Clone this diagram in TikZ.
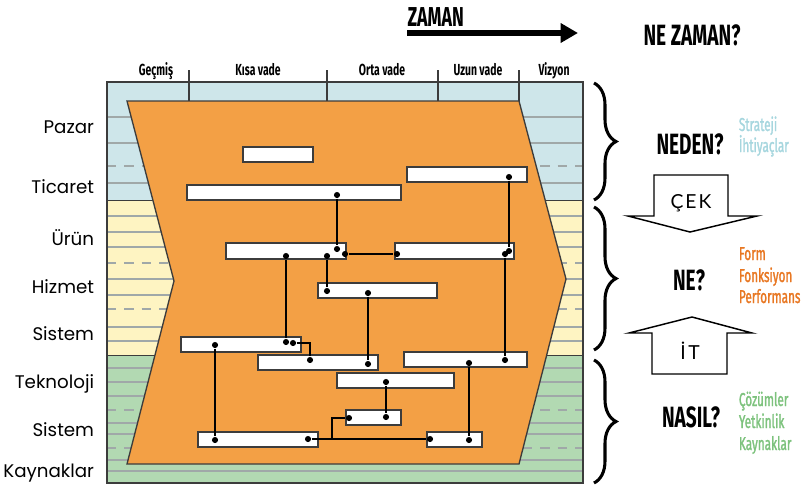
\documentclass[tikz,border=0pt]{standalone}
\usepackage{fontspec}
\setmainfont{Poppins}
\newfontfamily\condfont{Fira Sans}[FakeStretch=0.65]
\newfontfamily\condmid{Fira Sans}[FakeStretch=0.63, FakeBold=1.4]
\newfontfamily\thinfont{Lato}
\usetikzlibrary{arrows.meta,decorations.pathreplacing}

\definecolor{bandblue}{RGB}{206,230,234}
\definecolor{bandyellow}{RGB}{254,244,194}
\definecolor{bandgreen}{RGB}{178,217,178}
\definecolor{bandgray}{RGB}{160,168,168}
\definecolor{shapeorange}{RGB}{243,160,69}
\definecolor{darkline}{RGB}{60,60,60}
\definecolor{txtblue}{RGB}{166,214,222}
\definecolor{txtorange}{RGB}{232,119,34}
\definecolor{txtgreen}{RGB}{125,194,125}

\tikzset{every picture/.style={line width=0.75pt}}
\tikzset{
  bar/.style={draw=darkline, fill=white, line width=1.2pt},
  dot/.style={circle, fill=black, inner sep=0pt, minimum size=4.6pt},
  link/.style={line width=1.2pt},
  bandline/.style={draw=bandgray, line width=0.8pt},
  banddash/.style={bandline, dash pattern=on 7pt off 6pt},
  phase/.style={font=\condfont\bfseries\fontsize{12}{14}\selectfont, anchor=base},
  layer/.style={font=\fontsize{13.7}{16}\selectfont, anchor=base east},
  question/.style={font=\condfont\bfseries\fontsize{22}{24}\selectfont, anchor=base},
  aspect/.style={font=\condmid\fontsize{14}{16}\selectfont, anchor=base west},
  bigbrace/.style={decorate, decoration={brace, amplitude=16.5pt}, line width=2.3pt},
  flowarrow/.style={draw=black, fill=white, line width=1.1pt},
}

\begin{document}
\begin{tikzpicture}[x=0.75pt, y=0.75pt, yscale=-1, xscale=1]
    \useasboundingbox (0,0) rectangle (803,487);

    % Bands
    \fill [bandblue]   (107, 82) rectangle (583,200);
    \fill [bandyellow] (107,200) rectangle (583,355);
    \fill [bandgreen]  (107,355) rectangle (583,483);

    % Band lines
    \foreach \y in {117,143,183, 216,232,247,279,295,327,341, 368,382,396,423,434,460,471}
      \draw [bandline] (107,\y) -- (583,\y);
    \foreach \y in {166,263,309,410,448}
      \draw [banddash] (107,\y) -- (583,\y);
    \draw [darkline] (107,200) -- (583,200);
    \draw [darkline] (107,355) -- (583,355);
    \draw [darkline, line width=1pt] (107, 82) rectangle (583,483);

    % Time ticks
    \foreach \x in {189,327,438,519}
      \draw [darkline, line width=1pt] (\x,70) -- (\x,101);

    % Labels: time phases
    \node [phase] (gecmis) at (156,75) {Geçmiş};
    \node [phase] (kisa)   at (258,75) {Kısa vade};
    \node [phase] (orta)   at (382,75) {Orta vade};
    \node [phase] (uzun)   at (478,75) {Uzun vade};
    \node [phase] (vizyon) at (554,75) {Vizyon};

    % Time arrow
    \node [anchor=base west, inner sep=0pt, font=\condfont\bfseries\fontsize{20.5}{22}\selectfont] (zaman) at (407,26) {ZAMAN};
    \coordinate (zs) at (407,33);
    \coordinate (ze) at (578,33);
    \draw [line width=3.8pt, -{Triangle[length=13pt,width=14pt]}] (zs) -- (ze);
    \node [question] (nezaman) at (692,45) {NE ZAMAN?};

    % Orange shape
    \draw [fill=shapeorange, draw=darkline, line width=1pt]
          (127,101) -- (519,101) -- (566,279) -- (519,464) -- (127,464) -- (174,281) -- cycle;

    % Bars
    \draw [bar] (243,147) rectangle (313,162);
    \draw [bar] (187,185) rectangle (401,200);
    \draw [bar] (407,167) rectangle (527,182);
    \draw [bar] (226,243) rectangle (346,259);
    \draw [bar] (395,243) rectangle (514,259);
    \draw [bar] (318,283) rectangle (437,298);
    \draw [bar] (181,337) rectangle (301,352);
    \draw [bar] (258,355) rectangle (378,370);
    \draw [bar] (404,352) rectangle (527,367);
    \draw [bar] (337,373) rectangle (454,388);
    \draw [bar] (346,410) rectangle (401,425);
    \draw [bar] (198,432) rectangle (318,447);
    \draw [bar] (427,432) rectangle (482,447);

    % Dots
    \node [dot] (b1) at (337,195) {};
    \node [dot] (c1) at (337,249) {};
    \node [dot] (c2) at (345,254) {};
    \node [dot] (c3) at (286,256) {};
    \node [dot] (c4) at (327,256) {};
    \node [dot] (d1) at (509,177) {};
    \node [dot] (e1) at (397,254) {};
    \node [dot] (e2) at (509,251) {};
    \node [dot] (e3) at (505,254) {};
    \node [dot] (f1) at (327,291) {};
    \node [dot] (f2) at (368,293) {};
    \node [dot] (g1) at (286,342) {};
    \node [dot] (g2) at (293,343) {};
    \node [dot] (g3) at (215,345) {};
    \node [dot] (h1) at (368,364) {};
    \node [dot] (h2) at (310,360) {};
    \node [dot] (l1) at (505,360) {};
    \node [dot] (l2) at (469,363) {};
    \node [dot] (i1) at (386,382) {};
    \node [dot] (j1) at (386,417) {};
    \node [dot] (j2) at (349,418) {};
    \node [dot] (k1) at (215,440) {};
    \node [dot] (k2) at (308,439) {};
    \node [dot] (m1) at (430,439) {};
    \node [dot] (m2) at (469,440) {};
    \coordinate (jk) at (332,439);

    % Links
    \draw [link] (b1) -- (c1);
    \draw [link] (c2) -- (e1);
    \draw [link] (d1) -- (e2);
    \draw [link] (e3) -- (l1);
    \draw [link] (c3) -- (g1);
    \draw [link] (c4) -- (f1);
    \draw [link] (f2) -- (h1);
    \draw [link] (g2) -| (h2);
    \draw [link] (g3) -- (k1);
    \draw [link] (i1) -- (j1);
    \draw [link] (j2) -| (jk);
    \draw [link] (k2) -- (m1);
    \draw [link] (l2) -- (m2);

    % Labels: layers
    \node [layer] (pazar)   at (99,133) {Pazar};
    \node [layer] (ticaret) at (99,193) {Ticaret};
    \node [layer] (urun)    at (99,245) {Ürün};
    \node [layer] (hizmet)  at (99,293) {Hizmet};
    \node [layer] (sistem1) at (99,340) {Sistem};
    \node [layer] (tekno)   at (99,388) {Teknoloji};
    \node [layer] (sistem2) at (99,436) {Sistem};
    \node [layer] (kaynak)  at (99,477) {Kaynaklar};

    % Braces
    \draw [bigbrace] (594, 83) -- (594,200);
    \draw [bigbrace] (594,207) -- (594,350);
    \draw [bigbrace] (594,360) -- (594,483);

    % Questions
    \node [question] (neden) at (690,154) {NEDEN?};
    \node [question] (ne)    at (689,290) {NE?};
    \node [question] (nasil) at (691,427) {NASIL?};

    % Aspects
    \node [aspect, text=txtblue] (strateji) at (734,131) {Strateji};
    \node [aspect, text=txtblue] (ihtiyac)  at (734,152) {İhtiyaçlar};
    \node [aspect, text=txtorange] (form)   at (734,260) {Form};
    \node [aspect, text=txtorange] (fonk)   at (734,282) {Fonksiyon};
    \node [aspect, text=txtorange] (perf)   at (734,303) {Performans};
    \node [aspect, text=txtgreen] (cozum)   at (734,406) {Çözümler};
    \node [aspect, text=txtgreen] (yetkin)  at (734,428) {Yetkinlik};
    \node [aspect, text=txtgreen] (kaynk)   at (734,450) {Kaynaklar};

    % Pull / push arrows
    \draw [flowarrow] (654,175) -- (728,175) -- (728,216) -- (757,216) -- (690,232)
          -- (628,216) -- (654,216) -- cycle;
    \node [anchor=base, font=\thinfont\fontsize{14.5}{16}\selectfont] (cek) at (691,208) {Ç\kern1.5ptE\kern1.5ptK};
    \draw [flowarrow] (652,374) -- (652,333) -- (629,333) -- (692,317) -- (752,333)
          -- (727,333) -- (727,374) -- cycle;
    \node [anchor=base, font=\thinfont\fontsize{14.5}{16}\selectfont] (it) at (690,359) {İ\kern2ptT};

\end{tikzpicture}
\end{document}
